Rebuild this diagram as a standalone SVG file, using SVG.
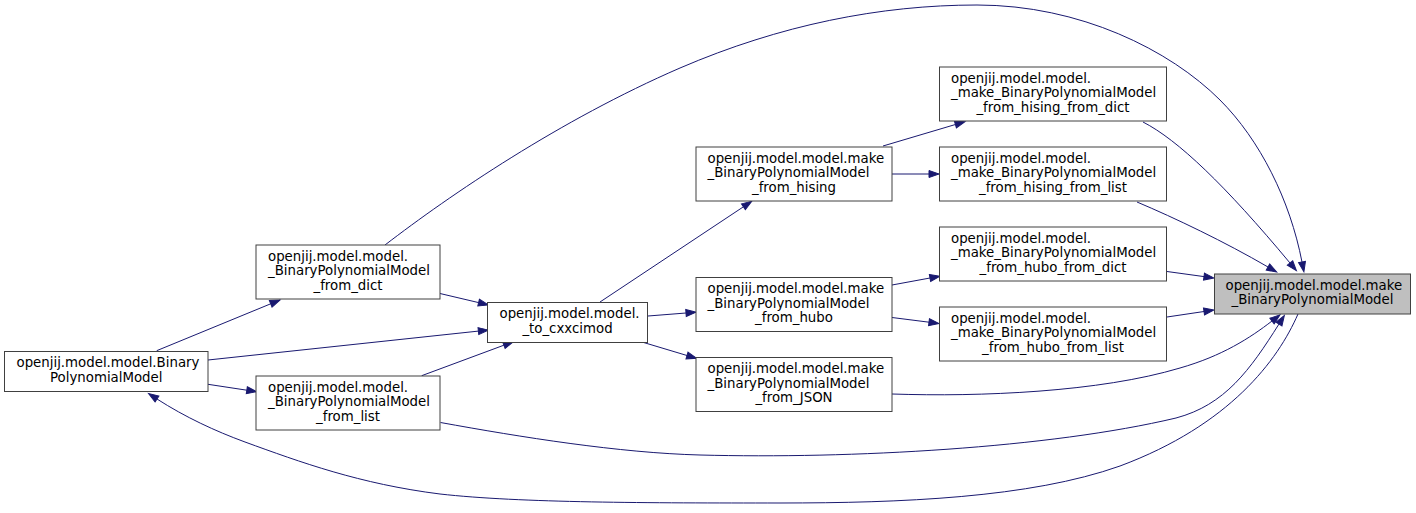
<svg xmlns="http://www.w3.org/2000/svg" width="1416" height="513" viewBox="0 0 1416 513">
<style>
.n rect{fill:#ffffff;stroke:#404040;stroke-width:1}
.n.hl rect{fill:#bfbfbf}
.n text{font-family:"DejaVu Sans","Liberation Sans",sans-serif;font-size:13.33px;fill:#000000}
.n text.c{text-anchor:middle}
.e path{fill:none;stroke:#191970;stroke-width:1;marker-end:url(#ah)}
</style>
<defs>
<marker id="ah" markerWidth="11" markerHeight="8" refX="0" refY="3.5" orient="auto" markerUnits="userSpaceOnUse" overflow="visible">
<path d="M0,0 L10,3.5 L0,7 Z" fill="#191970" stroke="#191970" stroke-width="1"/>
</marker>
</defs>
<rect x="0" y="0" width="1416" height="513" fill="#ffffff"/>
<g id="edges" class="e">
<path d="M385,245 C450,195 560,120 680,68 C780,25 880,5 977,5 C1080,5 1170,50 1220,100 C1260,140 1290,200 1302,262"/>
<path d="M1143,122 C1178,140 1225,185 1290,263"/>
<path d="M1137,202 C1175,218 1225,242 1268,267"/>
<path d="M1167,271.5 L1204,276.6"/>
<path d="M1167,317 L1204,311.5"/>
<path d="M883,146 L955.4,124.5"/>
<path d="M892,174 L929,174"/>
<path d="M892,285 L930,278"/>
<path d="M892,317.5 L929,322.2"/>
<path d="M892,394 C980,397 1100,392 1180,368 C1222,356 1250,338 1272,321"/>
<path d="M440.5,422.5 C520,437 620,453 700,455 C850,459 1050,448 1176,418 C1225,405 1250,370 1279,324"/>
<path d="M1298,314 C1278,360 1230,425 1120,466 C1030,498 900,503 780,503 C650,503 520,503 440,494 C360,484 300,462 245,442 C215,431 185,417 157,399"/>
<path d="M600,302 L743.4,206.8"/>
<path d="M648,316 L686,313"/>
<path d="M642,342 L687,355.5"/>
<path d="M440,293.5 L478.6,302.6"/>
<path d="M208,360 L478.4,331.1"/>
<path d="M421.7,375.7 L503.9,345.2"/>
<path d="M156.7,350.7 L270.7,303.8"/>
<path d="M208,384.3 L246.8,390.2"/>
</g>
<g id="nodeA" class="n hl">
<rect x="1214.5" y="274" width="196" height="40"/>
<text x="1225.5" y="289.5">openjij.model.model.make</text>
<text class="c" x="1312.5" y="304">_BinaryPolynomialModel</text>
</g>
<g id="nodeB1" class="n">
<rect x="939.5" y="67" width="227" height="54"/>
<text x="951" y="82.5">openjij.model.model.</text>
<text x="951" y="97">_make_BinaryPolynomialModel</text>
<text class="c" x="1053" y="111.5">_from_hising_from_dict</text>
</g>
<g id="nodeB2" class="n">
<rect x="939.5" y="147" width="227" height="54"/>
<text x="951" y="162.5">openjij.model.model.</text>
<text x="951" y="177">_make_BinaryPolynomialModel</text>
<text class="c" x="1053" y="191.5">_from_hising_from_list</text>
</g>
<g id="nodeB3" class="n">
<rect x="939.5" y="227" width="227" height="54"/>
<text x="951" y="242.5">openjij.model.model.</text>
<text x="951" y="257">_make_BinaryPolynomialModel</text>
<text class="c" x="1053" y="271.5">_from_hubo_from_dict</text>
</g>
<g id="nodeB4" class="n">
<rect x="939.5" y="307" width="227" height="54"/>
<text x="951" y="322.5">openjij.model.model.</text>
<text x="951" y="337">_make_BinaryPolynomialModel</text>
<text class="c" x="1053" y="351.5">_from_hubo_from_list</text>
</g>
<g id="nodeC1" class="n">
<rect x="696" y="147" width="196" height="54"/>
<text x="707.5" y="162.5">openjij.model.model.make</text>
<text x="707.5" y="177">_BinaryPolynomialModel</text>
<text class="c" x="794" y="191.5">_from_hising</text>
</g>
<g id="nodeC2" class="n">
<rect x="696" y="277.5" width="196" height="54"/>
<text x="707.5" y="293">openjij.model.model.make</text>
<text x="707.5" y="307.5">_BinaryPolynomialModel</text>
<text class="c" x="794" y="322">_from_hubo</text>
</g>
<g id="nodeC3" class="n">
<rect x="696" y="357.5" width="196" height="54"/>
<text x="707.5" y="373">openjij.model.model.make</text>
<text x="707.5" y="387.5">_BinaryPolynomialModel</text>
<text class="c" x="794" y="402">_from_JSON</text>
</g>
<g id="nodeD" class="n">
<rect x="487.5" y="302.5" width="160" height="40"/>
<text x="499.5" y="318">openjij.model.model.</text>
<text class="c" x="567.5" y="332.5">_to_cxxcimod</text>
</g>
<g id="nodeE1" class="n">
<rect x="256" y="245" width="184" height="54"/>
<text x="268" y="260.5">openjij.model.model.</text>
<text x="268" y="275">_BinaryPolynomialModel</text>
<text class="c" x="348" y="289.5">_from_dict</text>
</g>
<g id="nodeE2" class="n">
<rect x="256" y="376" width="184" height="54"/>
<text x="268" y="391.5">openjij.model.model.</text>
<text x="268" y="406">_BinaryPolynomialModel</text>
<text class="c" x="348" y="420.5">_from_list</text>
</g>
<g id="nodeF" class="n">
<rect x="4.5" y="351.5" width="203.5" height="40"/>
<text x="16.5" y="367">openjij.model.model.Binary</text>
<text class="c" x="106.25" y="381.5">PolynomialModel</text>
</g>
</svg>
